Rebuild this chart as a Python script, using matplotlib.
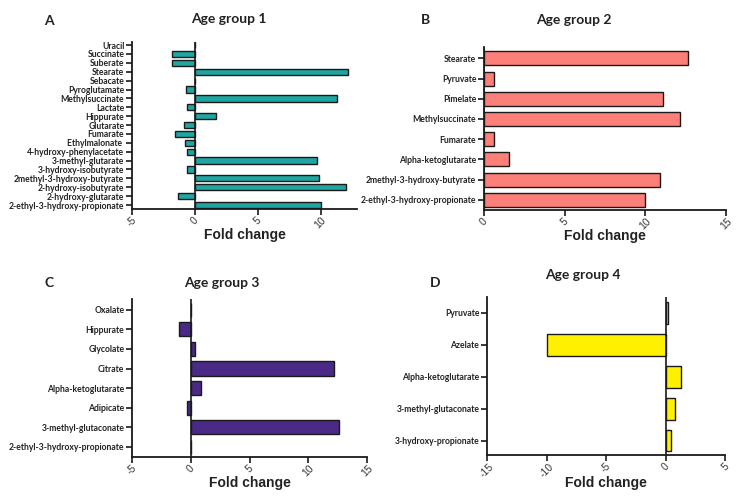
import matplotlib
matplotlib.use("Agg")
import matplotlib.pyplot as plt

# Age group 1 (bottom to top)
labels_a = ['2-ethyl-3-hydroxy-propionate', '2-hydroxy-glutarate', '2-hydroxy-isobutyrate',
            '2methyl-3-hydroxy-butyrate', '3-hydroxy-isobutyrate', '3-methyl-glutarate',
            '4-hydroxy-phenylacetate', 'Ethylmalonate ', 'Fumarate', 'Glutarate', 'Hippurate',
            'Lactate', 'Methylsuccinate', 'Pyroglutamate', 'Sebacate', 'Stearate', 'Suberate',
            'Succinate', 'Uracil']
values_a = [10.0, -1.37, 12.0, 9.9, -0.6, 9.7, -0.6, -0.8, -1.6, -0.9, 1.65,
            -0.6, 11.3, -0.7, 0.0, 12.2, -1.85, -1.78, 0.0]

# Age group 2
labels_b = ['2-ethyl-3-hydroxy-propionate', '2methyl-3-hydroxy-butyrate', 'Alpha-ketoglutarate',
            'Fumarate', 'Methylsuccinate', 'Pimelate', 'Pyruvate', 'Stearate']
values_b = [10.0, 10.9, 1.53, 0.65, 12.13, 11.1, 0.62, 12.65]

# Age group 3
labels_c = ['2-ethyl-3-hydroxy-propionate', '3-methyl-glutaconate', 'Adipicate',
            'Alpha-ketoglutarate', 'Citrate', 'Glycolate', 'Hippurate', 'Oxalate']
values_c = [0.0, 12.65, -0.28, 0.9, 12.2, 0.34, -0.97, 0.0]

# Age group 4
labels_d = ['3-hydroxy-propionate', '3-methyl-glutaconate', 'Alpha-ketoglutarate',
            'Azelate', 'Pyruvate']
values_d = [0.5, 0.84, 1.34, -10.0, 0.17]

W, H = 740, 499
fig = plt.figure(figsize=(W / 100, H / 100), dpi=100)


def make_ax(left, right, top, bottom):
    return fig.add_axes([left / W, 1 - bottom / H, (right - left) / W, (bottom - top) / H])


def draw_panel(ax, labels, values, color, xlim, ticks, ylim, height):
    y = list(range(len(labels)))
    ax.barh(y, values, height=height, color=color, edgecolor='#1a1a1a', linewidth=1.0)
    ax.axvline(0, color='#1a1a1a', linewidth=1.2)
    ax.set_xlim(*xlim)
    ax.set_ylim(*ylim)
    ax.set_yticks(y)
    ax.set_yticklabels(labels, fontsize=6.2, fontweight='bold', family='Lato', color='#222222')
    ax.set_xticks(ticks)
    ax.set_xticklabels([str(t) for t in ticks], rotation=45, fontsize=7.5,
                       family='Liberation Sans', color='#333333')
    ax.spines['top'].set_visible(False)
    ax.spines['right'].set_visible(False)
    for s in ['left', 'bottom']:
        ax.spines[s].set_linewidth(1.3)
        ax.spines[s].set_color('#1a1a1a')
    ax.tick_params(axis='both', width=1.2, length=4, pad=1.5, color='#1a1a1a')
    ax.tick_params(axis='x', pad=0.5)
    ax.set_xlabel('Fold change', fontsize=10, fontweight='bold', family='Liberation Sans',
                  labelpad=-2, color='#222222')


ax_a = make_ax(132, 357, 42, 209)
draw_panel(ax_a, labels_a, values_a, '#1fa6a3', (-5, 12.9), [-5, 0, 5, 10], (-0.45, 18.35), 0.7)

ax_b = make_ax(484, 726, 47, 210)
draw_panel(ax_b, labels_b, values_b, '#fc8079', (0, 15), [0, 5, 10, 15], (-0.5, 7.56), 0.69)

ax_c = make_ax(132, 367, 299, 457)
draw_panel(ax_c, labels_c, values_c, '#4a2a86', (-5, 15), [-5, 0, 5, 10, 15], (-0.53, 7.56), 0.72)

ax_d = make_ax(487, 725, 297, 455)
draw_panel(ax_d, labels_d, values_d, '#fff000', (-15, 5), [-15, -10, -5, 0, 5], (-0.45, 4.5), 0.68)

# panel letters and titles
title_kw = dict(fontsize=10, fontweight='bold', family='Lato', ha='center', va='center',
                color='#222222')
fig.text(49 / W, 1 - 21 / H, 'A', **title_kw)
fig.text(229 / W, 1 - 19 / H, 'Age group 1', **title_kw)
fig.text(426 / W, 1 - 20 / H, 'B', **title_kw)
fig.text(574 / W, 1 - 20 / H, 'Age group 2', **title_kw)
fig.text(49 / W, 1 - 283 / H, 'C', **title_kw)
fig.text(222 / W, 1 - 283 / H, 'Age group 3', **title_kw)
fig.text(435 / W, 1 - 283 / H, 'D', **title_kw)
fig.text(583 / W, 1 - 275 / H, 'Age group 4', **title_kw)

fig.savefig('out.png', dpi=100)
